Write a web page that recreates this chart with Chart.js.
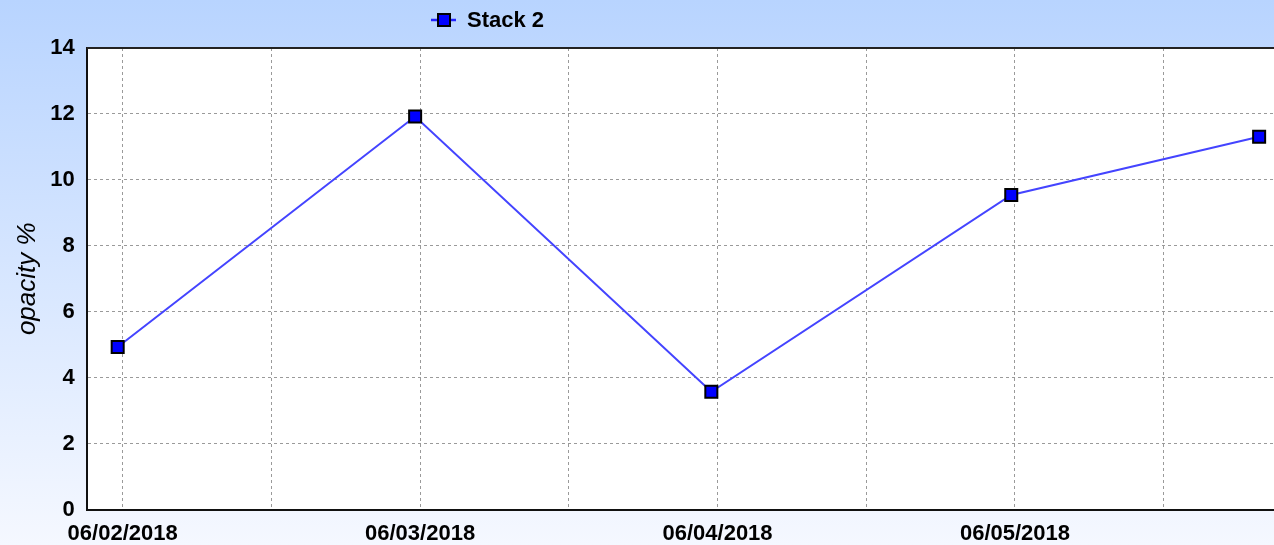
<!DOCTYPE html>
<html>
<head>
<meta charset="utf-8">
<script src="https://cdn.jsdelivr.net/npm/chart.js@4/dist/chart.umd.min.js"></script>
<style>
html,body{margin:0;padding:0;background:#fff;}
#wrap{width:1274px;height:545px;position:relative;}
</style>
</head>
<body>
<div id="wrap"><canvas id="c" width="1274" height="545"></canvas></div>
<script>
// Data (x = hours since 06/02/2018 00:00)
const seriesLabel = 'Stack 2';
const pointHours = [-0.4, 23.6, 47.5, 71.7, 91.7];
const seriesValues = [4.93, 11.92, 3.57, 9.54, 11.31];
const tickHours = [0, 12, 24, 36, 48, 60, 72, 84];
const tickLabels = {0: '06/02/2018', 24: '06/03/2018', 48: '06/04/2018', 72: '06/05/2018'};
const yTitle = 'opacity %';

const FONT = '"Liberation Sans", Arial, sans-serif';

const bgPlugin = {
  id: 'bg',
  beforeDraw(chart) {
    const {ctx, width, height, chartArea: a} = chart;
    ctx.save();
    const g = ctx.createLinearGradient(0, 0, 0, height);
    g.addColorStop(0, '#b8d4ff');
    g.addColorStop(1, '#f5f8ff');
    ctx.fillStyle = g;
    ctx.fillRect(0, 0, width, height);
    ctx.fillStyle = '#ffffff';
    ctx.fillRect(a.left, a.top, a.right - a.left, a.bottom - a.top);
    ctx.restore();
  },
  afterDatasetsDraw(chart) {
    const {ctx, chartArea: a} = chart;
    ctx.save();
    ctx.strokeStyle = '#222';
    ctx.lineWidth = 2;
    ctx.beginPath();
    ctx.moveTo(a.left, a.top);
    ctx.lineTo(a.right, a.top);
    ctx.stroke();
    ctx.translate(28, (a.top + a.bottom) / 2);
    ctx.rotate(-Math.PI / 2);
    ctx.fillStyle = '#000';
    ctx.font = 'italic 26px ' + FONT;
    ctx.textAlign = 'center';
    ctx.textBaseline = 'middle';
    ctx.fillText(yTitle, 0, 0);
    ctx.restore();
    ctx.save();
    const ly = 20;
    ctx.strokeStyle = '#2222ff';
    ctx.lineWidth = 2.5;
    ctx.beginPath();
    ctx.moveTo(431, ly);
    ctx.lineTo(456, ly);
    ctx.stroke();
    ctx.fillStyle = '#0000ff';
    ctx.strokeStyle = '#000';
    ctx.lineWidth = 2;
    ctx.fillRect(438, ly - 6, 12, 12);
    ctx.strokeRect(438, ly - 6, 12, 12);
    ctx.fillStyle = '#000';
    ctx.font = 'bold 22px ' + FONT;
    ctx.textAlign = 'left';
    ctx.textBaseline = 'middle';
    ctx.fillText(chart.data.datasets[0].label, 467, ly + 1);
    ctx.restore();
  }
};

new Chart(document.getElementById('c'), {
  type: 'line',
  data: {
    datasets: [{
      label: seriesLabel,
      data: pointHours.map((h, i) => ({x: h, y: seriesValues[i]})),
      borderColor: '#4444ff',
      borderWidth: 2,
      pointStyle: 'rect',
      pointRadius: 8.5,
      pointHoverRadius: 8.5,
      pointBackgroundColor: '#0000ff',
      pointBorderColor: '#000000',
      pointBorderWidth: 2,
      tension: 0,
      clip: false
    }]
  },
  options: {
    responsive: false,
    animation: false,
    events: [],
    layout: {autoPadding: false, padding: {top: 48, right: 0, left: 0, bottom: 0}},
    plugins: {legend: {display: false}, tooltip: {enabled: false}, title: {display: false}},
    scales: {
      x: {
        type: 'linear',
        min: -2.9,
        max: 92.9,
        afterBuildTicks(scale) { scale.ticks = tickHours.map(v => ({value: v})); },
        afterFit(scale) { scale.height = 35.5; },
        grid: {color: '#9a9a9a', lineWidth: 1, drawTicks: false},
        border: {display: true, color: '#111', width: 2, dash: [3, 3]},
        ticks: {
          autoSkip: false,
          maxRotation: 0,
          padding: 11,
          color: '#000',
          font: {family: FONT, size: 22, weight: 'bold'},
          callback: v => tickLabels[v] || ''
        }
      },
      y: {
        min: 0,
        max: 14,
        afterFit(scale) { scale.width = 86.7; },
        grid: {color: '#9a9a9a', lineWidth: 1, drawTicks: false},
        border: {display: true, color: '#111', width: 2, dash: [3, 3]},
        ticks: {
          stepSize: 2,
          padding: 12,
          color: '#000',
          font: {family: FONT, size: 22, weight: 'bold'}
        }
      }
    }
  },
  plugins: [bgPlugin]
});
</script>
</body>
</html>
